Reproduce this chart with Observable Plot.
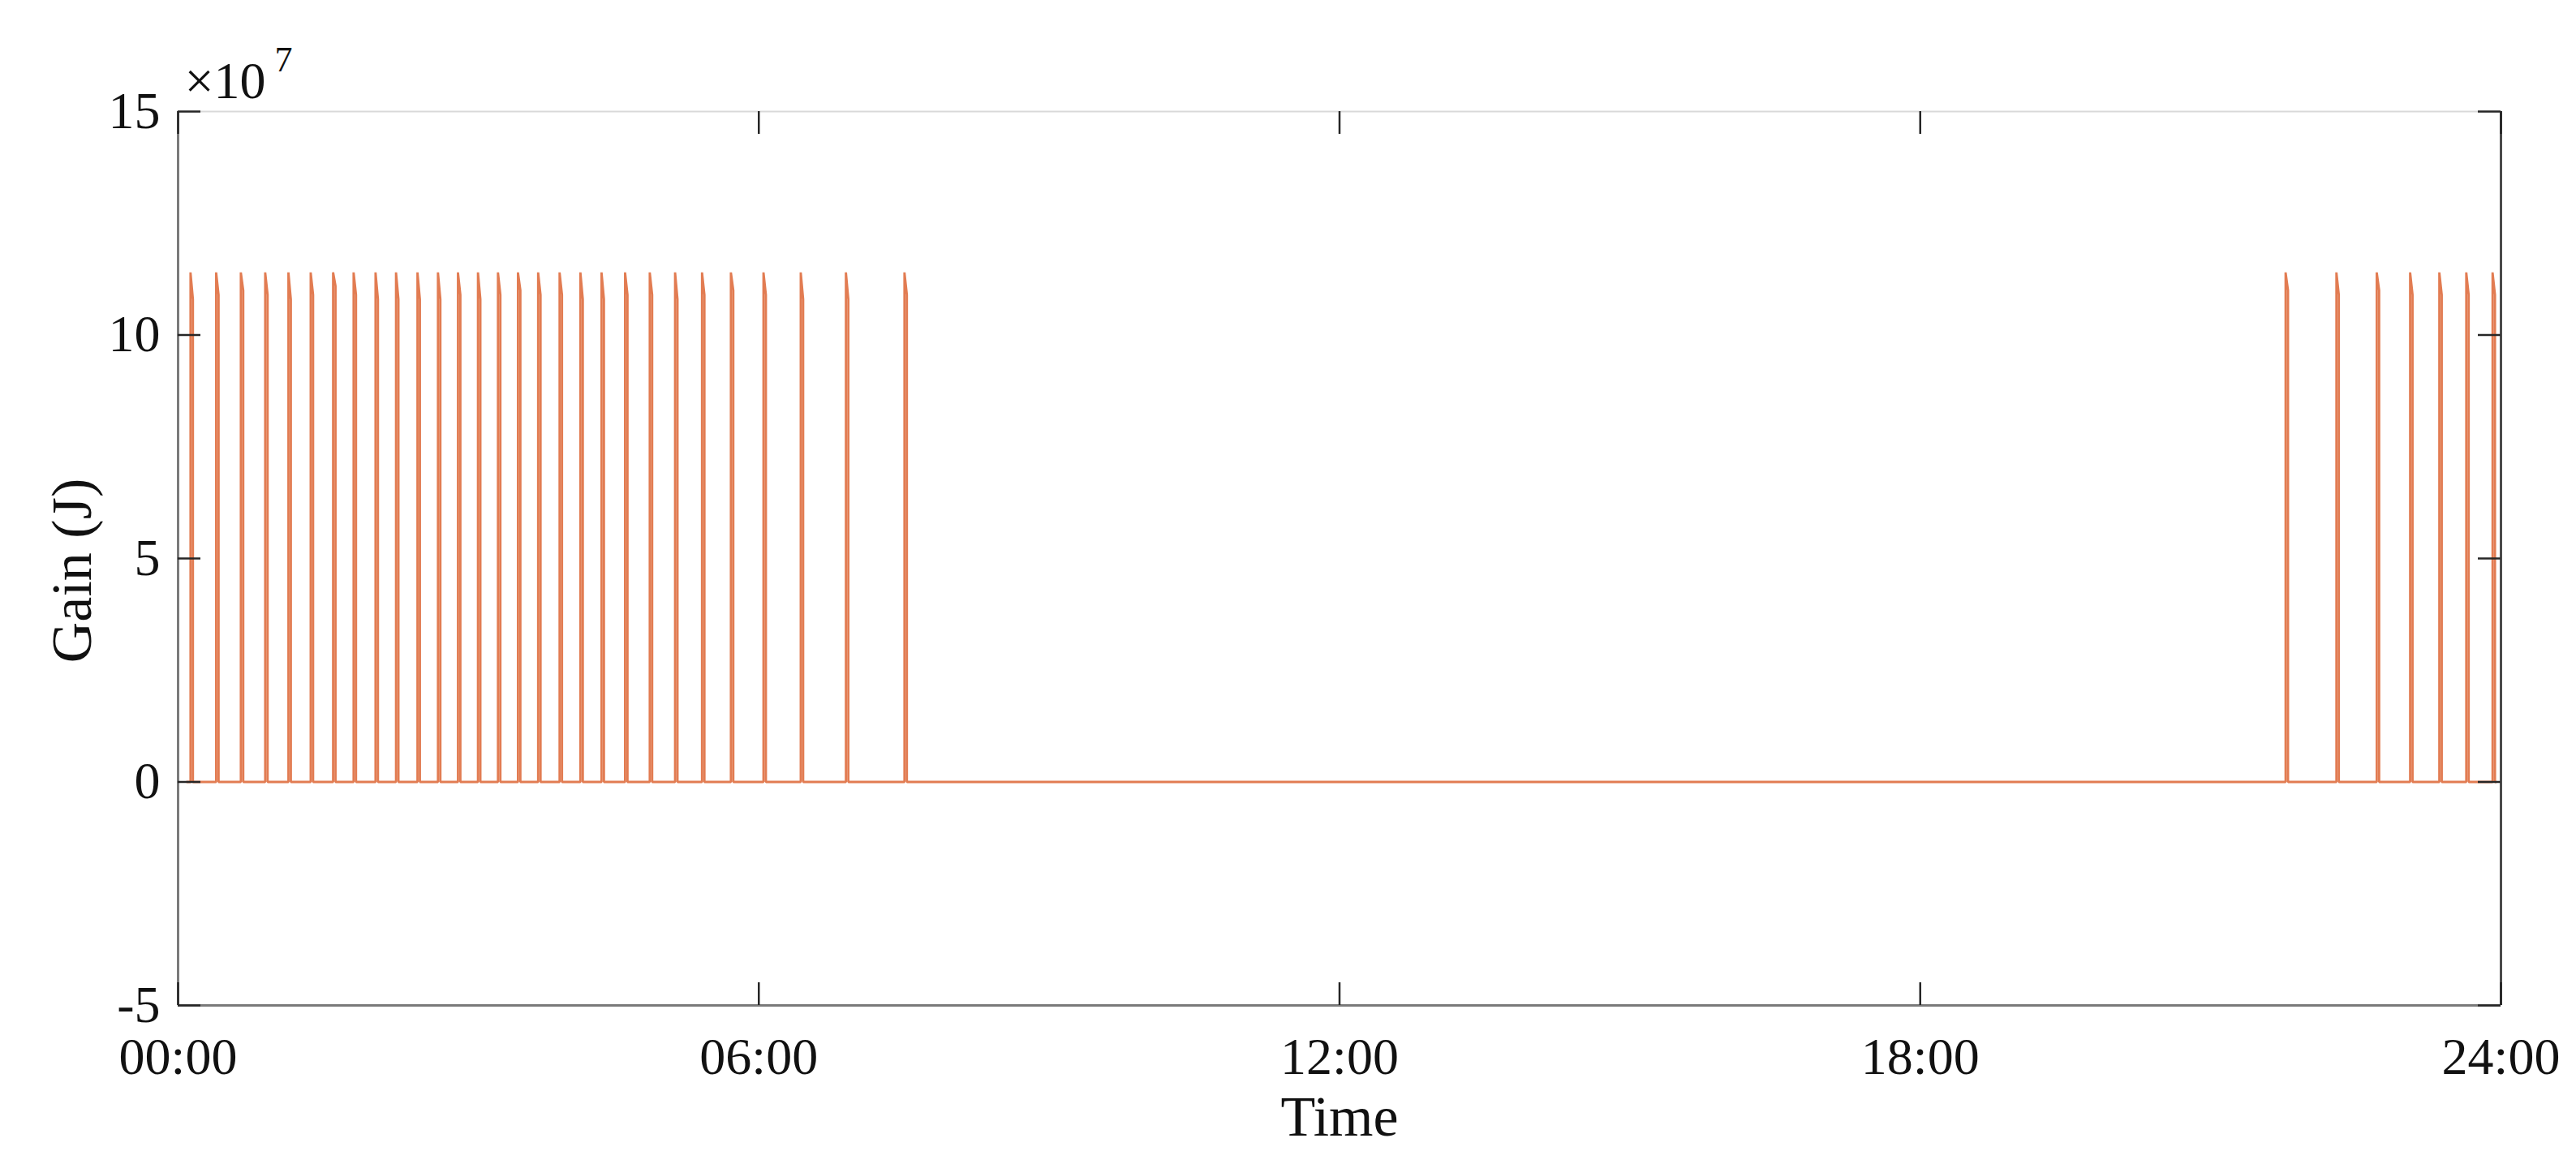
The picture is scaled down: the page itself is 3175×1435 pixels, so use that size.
<!DOCTYPE html>
<html>
<head>
<meta charset="utf-8">
<script src="https://cdn.jsdelivr.net/npm/d3@7"></script>
<script src="https://cdn.jsdelivr.net/npm/@observablehq/plot@0.6"></script>
<style>
  html, body { margin: 0; padding: 0; background: #ffffff; }
  #chart svg { display: block; }
</style>
</head>
<body>
<div id="chart"></div>
<script>
// ---- Data (time in minutes after 00:00, gain in J) ----
const pulseStartMin = [7.7, 23.6, 38.9, 54.0, 68.4, 82.2, 96.1, 108.8, 122.4, 135.1,
  148.4, 161.1, 173.5, 185.9, 198.3, 210.7, 223.2, 236.5, 249.4, 262.5,
  277.1, 292.4, 308.1, 324.8, 342.7, 362.9, 386.0, 414.0, 450.3,
  1306.5, 1338.0, 1363.0, 1383.7, 1401.8, 1418.5, 1434.8];
const pulsePeakJ = [1.14e8, 1.14e8, 1.14e8, 1.14e8, 1.14e8, 1.14e8, 1.14e8, 1.14e8, 1.14e8, 1.14e8,
  1.14e8, 1.14e8, 1.14e8, 1.14e8, 1.14e8, 1.14e8, 1.14e8, 1.14e8, 1.14e8, 1.14e8,
  1.14e8, 1.14e8, 1.14e8, 1.14e8, 1.14e8, 1.14e8, 1.14e8, 1.14e8, 1.14e8,
  1.14e8, 1.14e8, 1.14e8, 1.14e8, 1.14e8, 1.14e8, 1.14e8];
const pulseTailJ = [1.08e8, 1.09e8, 1.10e8, 1.09e8, 1.08e8, 1.09e8, 1.11e8, 1.09e8, 1.08e8, 1.08e8,
  1.08e8, 1.08e8, 1.09e8, 1.08e8, 1.09e8, 1.10e8, 1.09e8, 1.09e8, 1.08e8, 1.08e8,
  1.09e8, 1.09e8, 1.08e8, 1.09e8, 1.10e8, 1.09e8, 1.08e8, 1.08e8, 1.09e8,
  1.10e8, 1.09e8, 1.10e8, 1.09e8, 1.09e8, 1.09e8, 1.09e8];
const pulseDurationMin = 1.5;
const dataStartMin = 5.5;
const dataEndMin = 1437;

const xTickValues = [0, 360, 720, 1080, 1440];
const xTickLabels = ["00:00", "06:00", "12:00", "18:00", "24:00"];
const yTickValues = [-5, 0, 5, 10, 15];   // ×10^7 J
const yExponent = "7";

// ---- Build the line table ----
const series = [{t: dataStartMin, g: 0}];
pulseStartMin.forEach((s, i) => {
  series.push({t: s, g: 0});
  series.push({t: s, g: pulsePeakJ[i]});
  series.push({t: s + pulseDurationMin, g: pulseTailJ[i]});
  series.push({t: s + pulseDurationMin, g: 0});
});
series.push({t: dataEndMin, g: 0});

// ---- Layout ----
const W = 3175, H = 1435;
const mL = 219, mR = 93, mT = 137, mB = 196;
const plotW = W - mL - mR, plotH = H - mT - mB;
const tickLen = 28;
const axisColor = "#262626";

const chart = Plot.plot({
  width: W,
  height: H,
  marginLeft: mL,
  marginRight: mR,
  marginTop: mT,
  marginBottom: mB,
  style: {fontFamily: "'Liberation Serif', 'Times New Roman', serif", background: "#ffffff", color: "#000000"},
  x: {type: "linear", domain: [0, 1440]},
  y: {type: "linear", domain: [-5, 15]},
  marks: [
    // data line
    Plot.line(series, {x: "t", y: d => d.g / 1e7, stroke: "#E27C52", strokeWidth: 2.8, strokeLinejoin: "miter"}),
    // box
    Plot.ruleY([15], {stroke: "#d9d9d9", strokeWidth: 2}),
    Plot.ruleY([-5], {stroke: "#7a7a7a", strokeWidth: 3}),
    Plot.ruleX([0], {stroke: "#7a7a7a", strokeWidth: 3}),
    Plot.ruleX([1440], {stroke: "#4a4a4a", strokeWidth: 3}),
    // inner tick marks (bottom / top / left / right)
    Plot.ruleX(xTickValues, {x: d => d, insetTop: plotH - tickLen, stroke: axisColor, strokeWidth: 2.5}),
    Plot.ruleX(xTickValues, {x: d => d, insetBottom: plotH - tickLen, stroke: axisColor, strokeWidth: 2.5}),
    Plot.ruleY(yTickValues, {y: d => d, insetRight: plotW - tickLen, stroke: axisColor, strokeWidth: 2.5}),
    Plot.ruleY(yTickValues, {y: d => d, insetLeft: plotW - tickLen, stroke: axisColor, strokeWidth: 2.5}),
    // tick labels
    Plot.axisX(xTickValues, {
      tickSize: 0, tickPadding: 39, fontSize: 64, fill: "#111",
      tickFormat: d => xTickLabels[xTickValues.indexOf(d)], label: null
    }),
    Plot.axisY(yTickValues, {
      tickSize: 0, tickPadding: 22, fontSize: 64, fill: "#111",
      tickFormat: d => String(d), label: null
    }),
    // axis titles
    Plot.text(["Time"], {frameAnchor: "bottom", dy: 138, fontSize: 70, fill: "#111", lineAnchor: "middle"}),
    Plot.text(["Gain (J)"], {frameAnchor: "left", textAnchor: "middle", dx: -130, dy: 15, rotate: -90, fontSize: 70, fill: "#111", lineAnchor: "middle"}),
    // exponent label
    Plot.text(["×10"], {frameAnchor: "top-left", textAnchor: "start", dx: 8, dy: -37, fontSize: 64, fill: "#111", lineAnchor: "middle"}),
    Plot.text([yExponent], {frameAnchor: "top-left", textAnchor: "start", dx: 119, dy: -64, fontSize: 44, fill: "#111", lineAnchor: "middle"})
  ]
});
document.getElementById("chart").appendChild(chart);
</script>
</body>
</html>
